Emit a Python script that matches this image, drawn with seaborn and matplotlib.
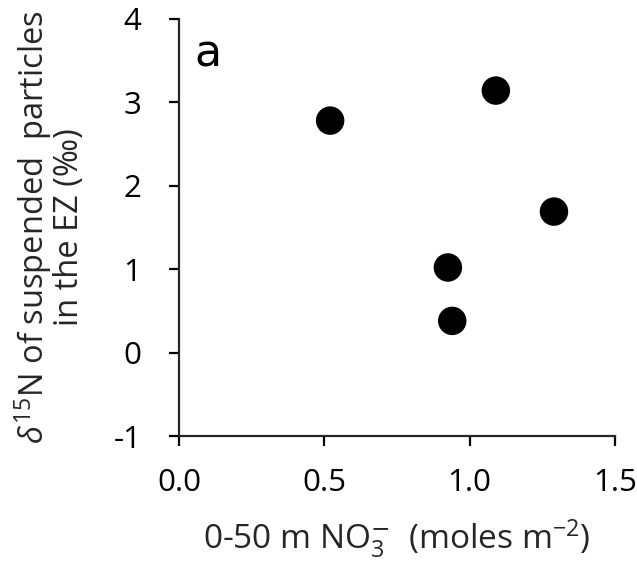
import matplotlib
matplotlib.use("Agg")
import matplotlib.pyplot as plt
import seaborn as sns
import pandas as pd

# values
nitrate = [0.52, 1.09, 1.29, 0.925, 0.94]
d15n = [2.78, 3.14, 1.69, 1.02, 0.38]
xticks = [0.0, 0.5, 1.0, 1.5]
yticks = [-1, 0, 1, 2, 3, 4]

df = pd.DataFrame({"no3": nitrate, "d15n": d15n})

sns.set_style("ticks")
plt.rcParams['font.family'] = ['Open Sans', 'DejaVu Sans']
plt.rcParams['mathtext.fontset'] = 'custom'
plt.rcParams['mathtext.rm'] = 'Open Sans'
plt.rcParams['mathtext.it'] = 'Open Sans:italic'

fig = plt.figure(figsize=(6.37, 5.70), dpi=100)
ax = fig.add_axes([0.281, 0.235, 0.6845, 0.732])

sns.scatterplot(data=df, x="no3", y="d15n", ax=ax, color="black",
                s=420, edgecolor="none", legend=False, clip_on=False)

ax.set_xlim(0, 1.5)
ax.set_ylim(-1, 4)
ax.set_xticks(xticks)
ax.set_xticklabels([f"{v:.1f}" for v in xticks])
ax.set_yticks(yticks)
ax.set_yticklabels([str(v) for v in yticks])
sns.despine(ax=ax)
for s in ["left", "bottom"]:
    ax.spines[s].set_linewidth(1.6)
ax.tick_params(axis="both", direction="out", length=7, width=1.6,
               labelsize=22.5, colors="black")
ax.tick_params(axis="y", pad=20)
ax.tick_params(axis="x", pad=16)

ax.set_xlabel(r"0-50 m NO$_3^{\mathsf{-}}$  (moles m$^{-2}$)", fontsize=24, labelpad=14)
ax.set_ylabel("$\\delta^{15}$N of suspended  particles\nin the EZ (‰)",
              fontsize=23.5, labelpad=20, linespacing=0.95)

ax.text(0.035, 0.915, "a", transform=ax.transAxes, fontsize=32, va="center",
        family="DejaVu Sans", color="black")

fig.savefig("out.png", dpi=100)
